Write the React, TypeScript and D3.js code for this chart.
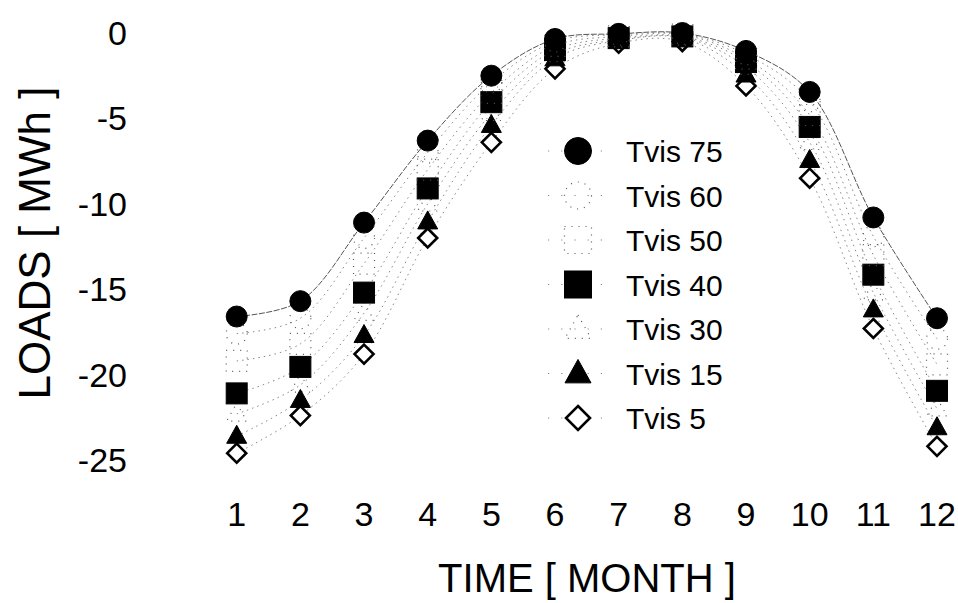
import React from "react";
import * as d3 from "d3";

const months = [1, 2, 3, 4, 5, 6, 7, 8, 9, 10, 11, 12];
const yTicks = [0, -5, -10, -15, -20, -25];

const tvis75 = [-16.6, -15.7, -11.1, -6.3, -2.5, -0.35, -0.05, 0.0, -1.05, -3.45, -10.8, -16.7];
const tvis60 = [-17.6, -16.7, -12.0, -7.0, -2.9, -0.5, -0.1, -0.05, -1.25, -4.0, -11.9, -17.9];
const tvis50 = [-19.2, -18.2, -13.5, -8.0, -3.5, -0.75, -0.2, -0.1, -1.5, -4.8, -13.0, -19.4];
const tvis40 = [-21.1, -19.55, -15.2, -9.1, -4.05, -1.0, -0.3, -0.2, -1.7, -5.5, -14.15, -20.95];
const tvis30 = [-22.3, -20.6, -16.4, -10.0, -4.7, -1.25, -0.4, -0.25, -2.0, -6.4, -15.2, -22.0];
const tvis15 = [-23.6, -21.5, -17.7, -11.05, -5.4, -1.5, -0.45, -0.3, -2.45, -7.45, -16.2, -23.1];
const tvis5 = [-24.6, -22.4, -18.8, -12.0, -6.4, -2.1, -0.6, -0.5, -3.1, -8.5, -17.3, -24.2];

const seriesNames = ["Tvis 75", "Tvis 60", "Tvis 50", "Tvis 40", "Tvis 30", "Tvis 15", "Tvis 5"];
const seriesValues = [tvis75, tvis60, tvis50, tvis40, tvis30, tvis15, tvis5];
const seriesShapes = ["circle", "circle", "square", "square", "triangle", "triangle", "diamond"];
const seriesFaint = [false, true, true, false, true, false, false];

const FONT = "'Liberation Sans', Arial, sans-serif";

function Marker({ shape, x, y, s, faint }: { shape: string; x: number; y: number; s: number; faint: boolean }) {
  const faintProps = { fill: "none", stroke: "#555", strokeWidth: 1.2, strokeDasharray: "1,6" };
  const solid = { fill: "#000", stroke: "#000", strokeWidth: 1 };
  const p = faint ? faintProps : solid;
  if (shape === "circle") return <circle cx={x} cy={y} r={s / 2} {...p} />;
  if (shape === "square") return <rect x={x - s / 2} y={y - s / 2} width={s} height={s} {...p} />;
  if (shape === "triangle") {
    const h = s * 0.9;
    const pts = `${x},${y - h * 0.6} ${x + s / 2},${y + h * 0.4} ${x - s / 2},${y + h * 0.4}`;
    return <polygon points={pts} {...p} />;
  }
  const r = s / 2;
  return (
    <polygon
      points={`${x},${y - r} ${x + r},${y} ${x},${y + r} ${x - r},${y}`}
      fill="#fff"
      stroke="#000"
      strokeWidth={2.6}
    />
  );
}

export default function App() {
  const W = 958;
  const H = 603;
  const x = d3.scaleLinear().domain([1, 12]).range([236.7, 937]);
  const y = d3.scaleLinear().domain([0, -25]).range([33, 460]);

  const line = d3
    .line<number>()
    .x((_, i) => x(months[i]))
    .y((v) => y(v))
    .curve(d3.curveCatmullRom.alpha(0.5));

  const legendX = 578;
  const legendY0 = 151;
  const legendDy = 44.5;

  const order = [6, 5, 4, 3, 2, 1, 0];

  return (
    <svg
      width={W}
      height={H}
      style={{ position: "absolute", left: 0, top: 0, background: "#fff" }}
      fontFamily={FONT}
    >
      <rect x={0} y={0} width={W} height={H} fill="#fff" />
      {/* lines */}
      {seriesValues.map((vals, i) => (
        <path
          key={"l" + i}
          d={line(vals) || ""}
          fill="none"
          stroke={i === 0 ? "#555" : "#888"}
          strokeWidth={1}
          strokeDasharray={i === 0 ? "6,1.5" : "1.5,4"}
        />
      ))}
      {/* markers */}
      {order.map((si) =>
        seriesValues[si].map((v, j) => (
          <Marker
            key={`m${si}-${j}`}
            shape={seriesShapes[si]}
            x={x(months[j])}
            y={y(v)}
            s={seriesShapes[si] === "diamond" ? 19 : seriesShapes[si] === "triangle" ? 20 : 21}
            faint={seriesFaint[si]}
          />
        ))
      )}
      {/* y ticks */}
      {yTicks.map((t) => (
        <text key={"y" + t} x={127} y={y(t) + 12} fontSize={34} textAnchor="end" fill="#000">
          {t}
        </text>
      ))}
      {/* x ticks */}
      {months.map((m) => (
        <text key={"x" + m} x={x(m)} y={526} fontSize={34} textAnchor="middle" fill="#000">
          {m}
        </text>
      ))}
      {/* axis titles */}
      <text x={587} y={592} fontSize={40} textAnchor="middle" fill="#000">
        TIME [ MONTH ]
      </text>
      <text transform="translate(50,243) rotate(-90)" fontSize={44} textAnchor="middle" fill="#000">
        LOADS [ MWh ]
      </text>
      {/* legend */}
      {seriesNames.map((name, i) => {
        const ly = legendY0 + i * legendDy;
        const shape = seriesShapes[i];
        return (
          <g key={"lg" + i}>
            <line
              x1={legendX - 30}
              x2={legendX + 30}
              y1={ly}
              y2={ly}
              stroke="#888"
              strokeWidth={1}
              strokeDasharray="1.2,12"
            />
            <Marker
              shape={shape}
              x={legendX}
              y={ly}
              s={shape === "diamond" ? 24 : shape === "triangle" ? 26 : 27}
              faint={seriesFaint[i]}
            />
            <text x={626} y={ly + 11} fontSize={30} fill="#000">
              {name}
            </text>
          </g>
        );
      })}
    </svg>
  );
}
